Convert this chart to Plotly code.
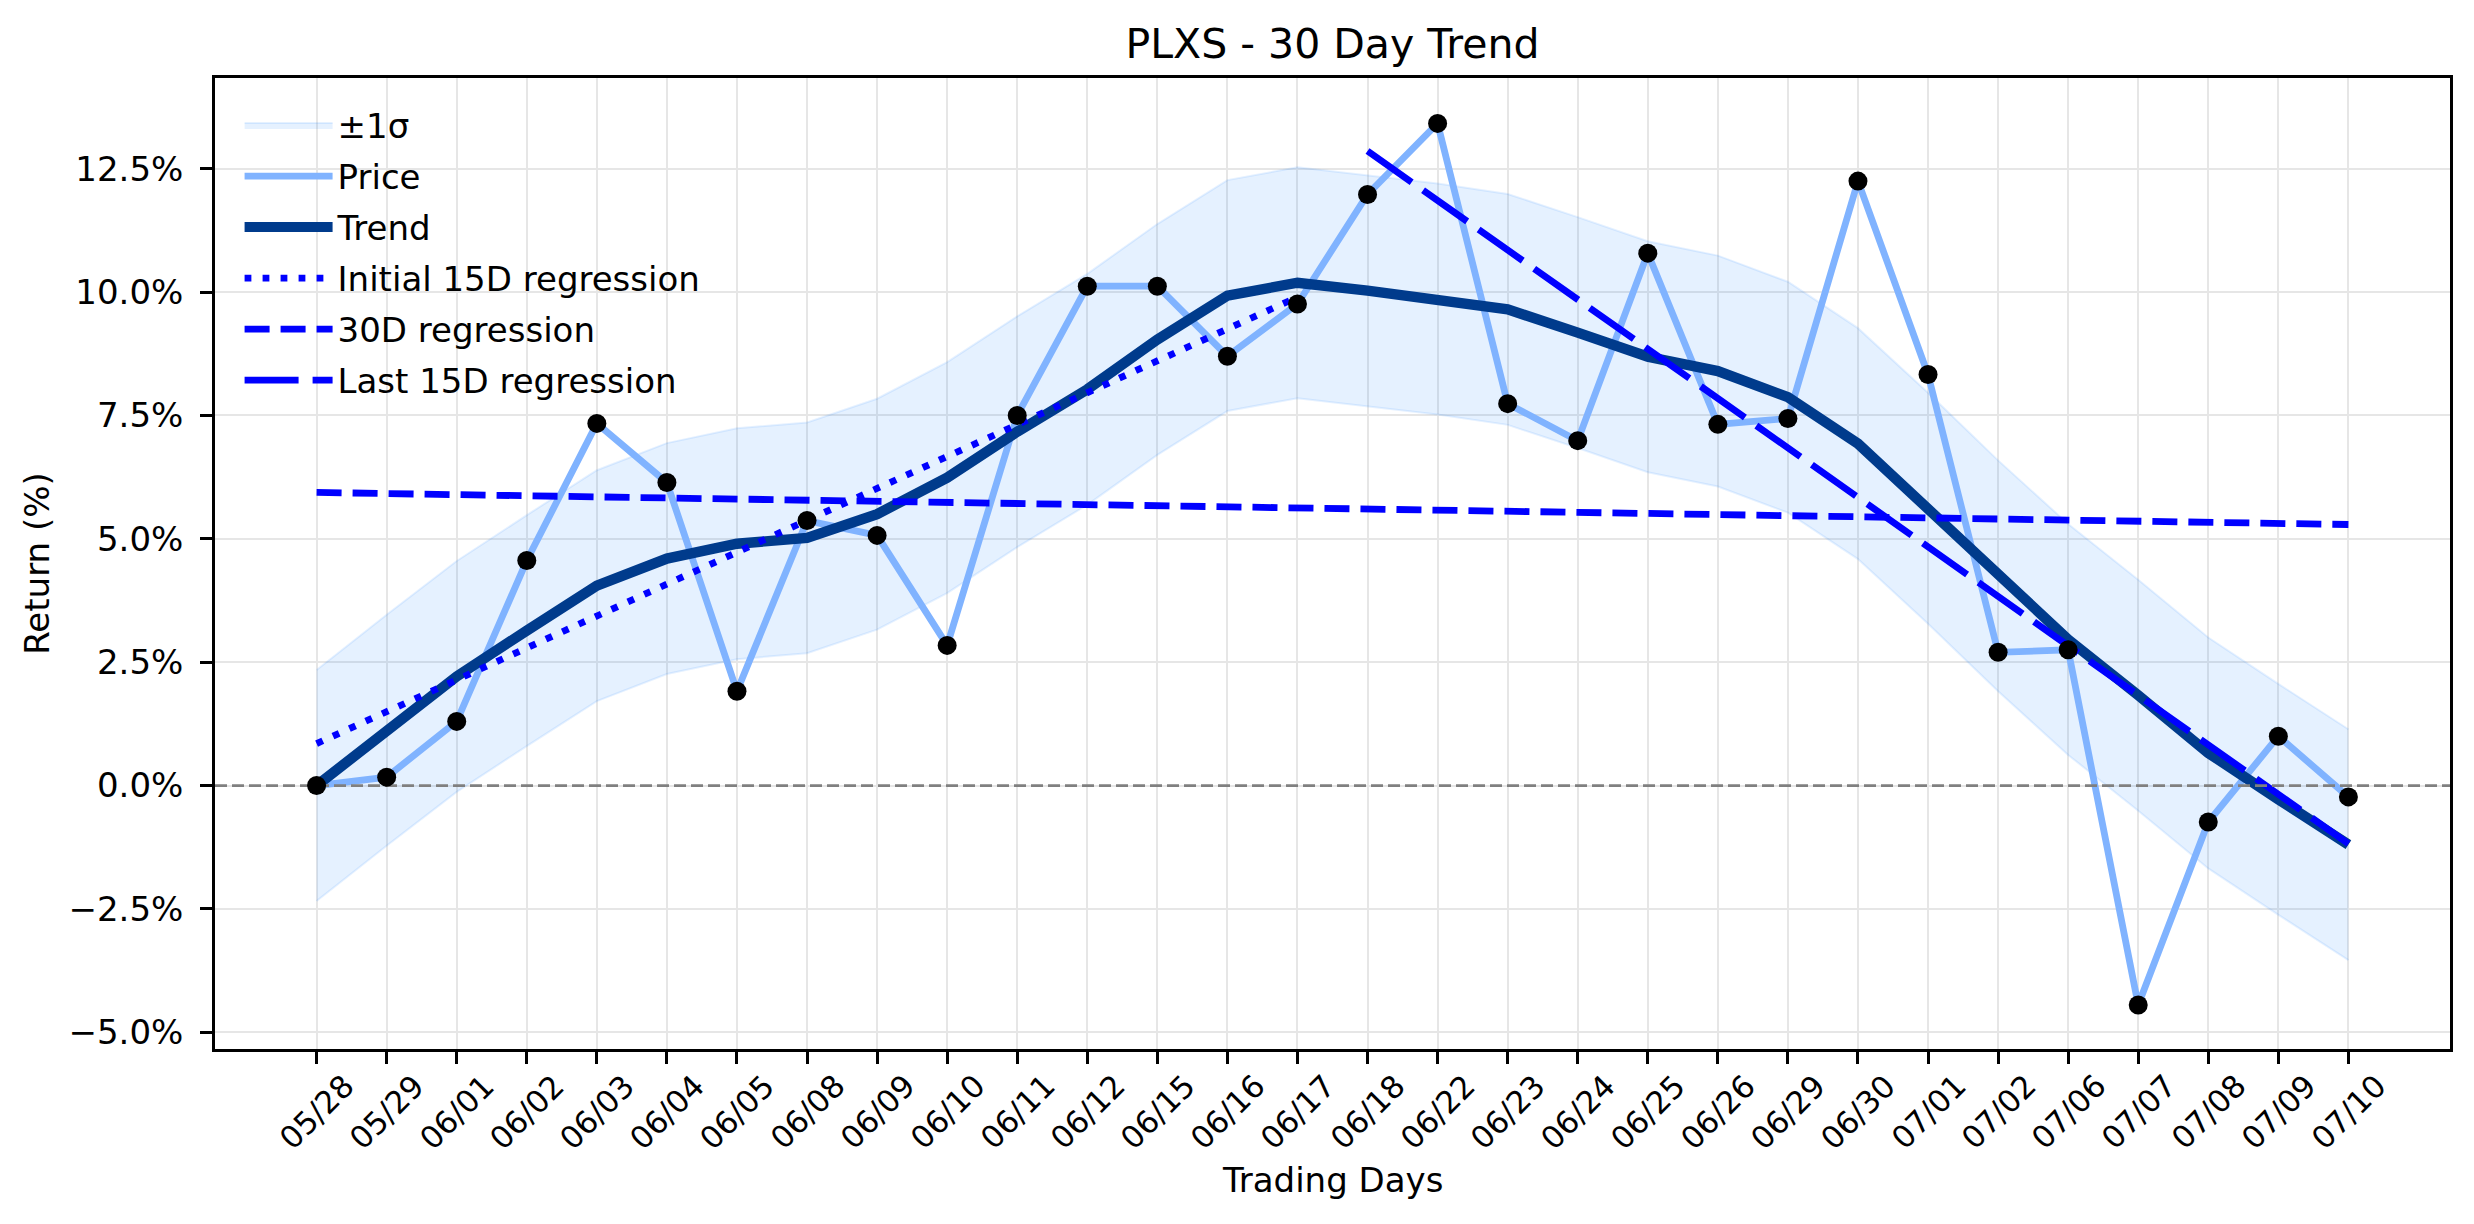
import plotly.graph_objects as go

# ---- data ----
dates = ["05/28", "05/29", "06/01", "06/02", "06/03", "06/04", "06/05", "06/08", "06/09", "06/10",
         "06/11", "06/12", "06/15", "06/16", "06/17", "06/18", "06/22", "06/23", "06/24", "06/25",
         "06/26", "06/29", "06/30", "07/01", "07/02", "07/06", "07/07", "07/08", "07/09", "07/10"]

price = [0.00, 0.17, 1.30, 4.56, 7.34, 6.14, 1.91, 5.37, 5.07, 2.84,
         7.50, 10.12, 10.12, 8.70, 9.76, 11.98, 13.42, 7.74, 6.99, 10.79,
         7.32, 7.44, 12.25, 8.33, 2.70, 2.75, -4.45, -0.74, 1.00, -0.23]

trend = [0.00, 1.12, 2.21, 3.14, 4.05, 4.60, 4.90, 5.02, 5.50, 6.24,
         7.17, 8.03, 9.04, 9.93, 10.19, 10.03, 9.86, 9.65, 9.18, 8.69,
         8.40, 7.87, 6.93, 5.62, 4.25, 2.96, 1.83, 0.66, -0.28, -1.20]

sigma = 2.34  # half-width of the +/-1 sigma band

reg_init_x = [0, 14]
reg_init_y = [0.85, 9.90]
reg_30_x = [0, 29]
reg_30_y = [5.94, 5.29]
reg_last_x = [15, 29]
reg_last_y = [12.86, -1.18]

y_ticks = [-5.0, -2.5, 0.0, 2.5, 5.0, 7.5, 10.0, 12.5]

# ---- styling ----
FONT = "DejaVu Sans"
x = list(range(len(dates)))
upper = [t + sigma for t in trend]
lower = [t - sigma for t in trend]
band_col = "rgba(0,122,255,0.10)"

fig = go.Figure()

fig.add_trace(go.Scatter(x=x, y=lower, mode="lines", line=dict(color=band_col, width=2),
                         showlegend=False, hoverinfo="skip", legendgroup="g0"))
fig.add_trace(go.Scatter(x=x, y=upper, mode="lines", fill="tonexty", fillcolor=band_col,
                         line=dict(color=band_col, width=2), name="±1σ", legendgroup="g0"))
fig.add_trace(go.Scatter(x=x, y=price, mode="lines", line=dict(color="#80b3ff", width=6.8),
                         name="Price", legendgroup="g1"))
fig.add_trace(go.Scatter(x=x, y=trend, mode="lines", line=dict(color="#003b8c", width=10.4),
                         name="Trend", legendgroup="g2"))
fig.add_trace(go.Scatter(x=reg_init_x, y=reg_init_y, mode="lines",
                         line=dict(color="#0000ff", width=6.8, dash="6.8px,11.2px"),
                         name="Initial 15D regression", legendgroup="g3"))
fig.add_trace(go.Scatter(x=reg_30_x, y=reg_30_y, mode="lines",
                         line=dict(color="#0000ff", width=6.8, dash="25px,11px"),
                         name="30D regression", legendgroup="g4"))
fig.add_trace(go.Scatter(x=reg_last_x, y=reg_last_y, mode="lines",
                         line=dict(color="#0000ff", width=6.8, dash="54px,14px"),
                         name="Last 15D regression", legendgroup="g5"))
fig.add_trace(go.Scatter(x=[-1.45, 30.45], y=[0, 0], mode="lines",
                         line=dict(color="rgba(128,128,128,1)", width=2.7, dash="12px,5px"),
                         showlegend=False, hoverinfo="skip"))
fig.add_trace(go.Scatter(x=x, y=price, mode="markers",
                         marker=dict(color="black", size=19), showlegend=False))

# rotated x tick labels centred on each tick
for i, d in enumerate(dates):
    fig.add_annotation(x=i, y=0, xref="x", yref="paper", text=d, showarrow=False,
                       textangle=-45, xanchor="center", yanchor="middle", yshift=-63,
                       font=dict(family=FONT, size=31, color="black"))

# x-axis title
fig.add_annotation(x=0.5, y=0, xref="paper", yref="paper", text="Trading Days", showarrow=False,
                   xanchor="center", yanchor="middle", yshift=-131,
                   font=dict(family=FONT, size=34, color="black"))

fig.update_layout(
    width=2474, height=1224,
    margin=dict(l=215, r=24, t=78, b=175),
    paper_bgcolor="white", plot_bgcolor="white",
    font=dict(family=FONT, size=34, color="black"),
    title=dict(text="PLXS - 30 Day Trend", x=0.5, xref="paper", xanchor="center",
               y=1 - 44 / 1224, yref="container", yanchor="middle",
               font=dict(family=FONT, size=41, color="black")),
    legend=dict(x=0.011, y=0.981, xanchor="left", yanchor="top",
                bgcolor="rgba(0,0,0,0)", borderwidth=0,
                font=dict(family=FONT, size=34, color="black"),
                tracegroupgap=3.8, itemwidth=88),
    showlegend=True,
)

fig.update_xaxes(range=[-1.45, 30.45], tickmode="array", tickvals=x, ticktext=[""] * len(x),
                 showticklabels=False, ticks="outside", ticklen=12, tickwidth=2.7, tickcolor="black",
                 showgrid=True, gridcolor="#e6e6e6", gridwidth=2.4,
                 showline=True, linecolor="black", linewidth=2.7, mirror=True, zeroline=False)

fig.update_yaxes(range=[-5.34, 14.34], tickmode="array", tickvals=y_ticks,
                 ticktext=[(f"{v:.1f}%").replace("-", "\u2212") for v in y_ticks],
                 ticks="outside", ticklen=12, tickwidth=2.7, tickcolor="black",
                 ticklabelstandoff=10,
                 showgrid=True, gridcolor="#e6e6e6", gridwidth=2.4,
                 showline=True, linecolor="black", linewidth=2.7, mirror=True, zeroline=False,
                 tickfont=dict(family=FONT, size=34, color="black"),
                 title=dict(text="Return (%)", standoff=9,
                            font=dict(family=FONT, size=34, color="black")))

fig.write_html("out.html")
